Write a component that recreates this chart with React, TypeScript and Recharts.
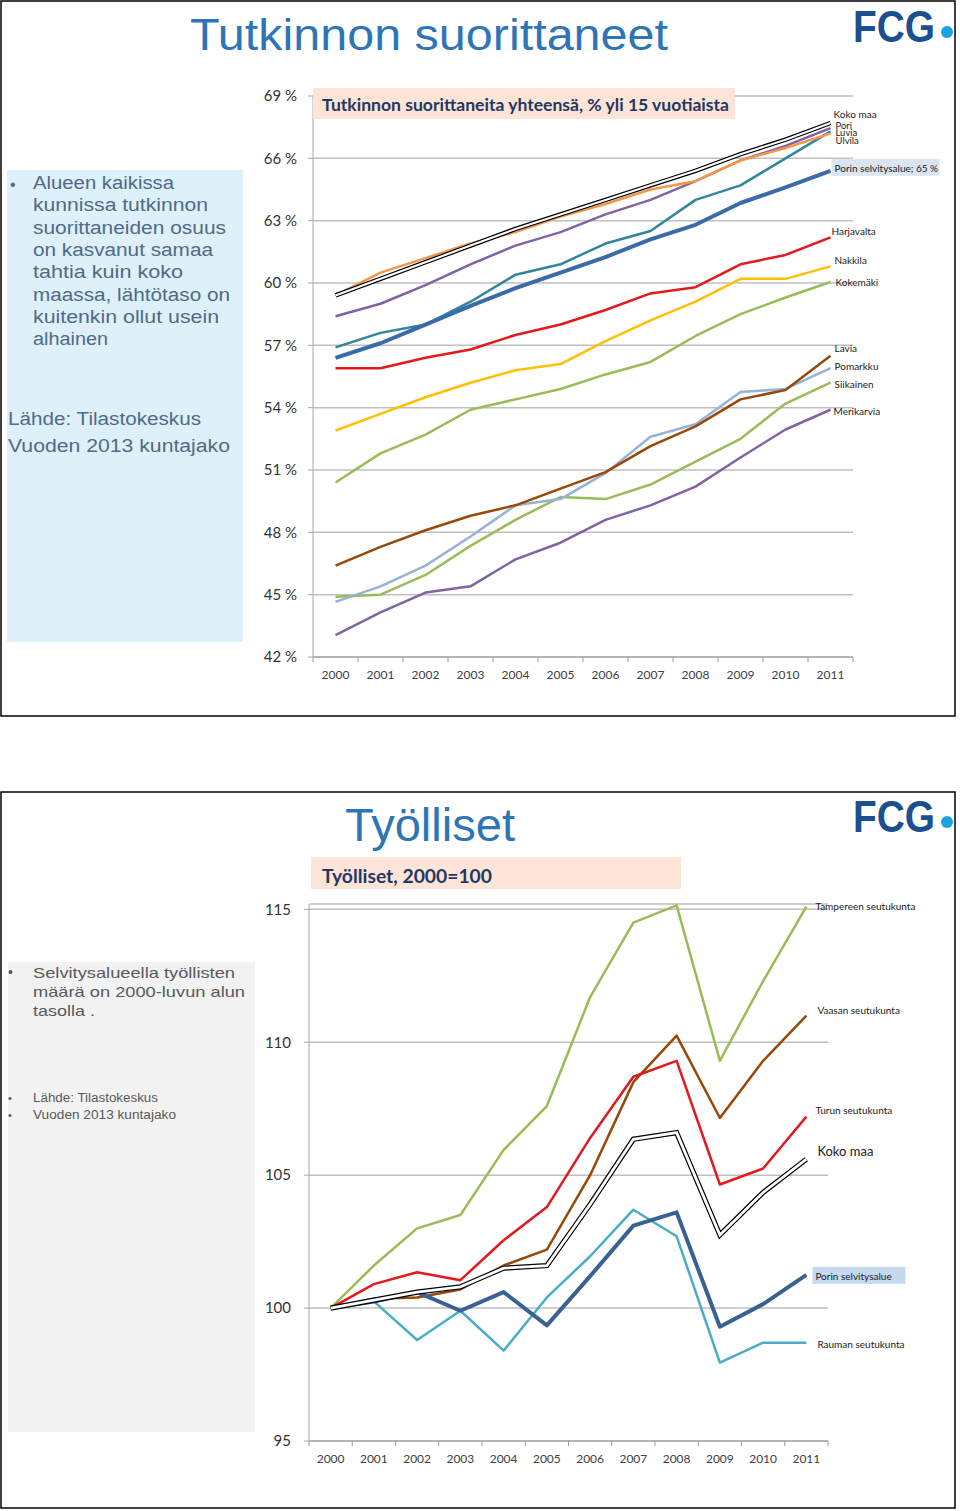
import React from "react";
import { LineChart, Line, XAxis, YAxis, CartesianGrid } from "recharts";

const years = [2000, 2001, 2002, 2003, 2004, 2005, 2006, 2007, 2008, 2009, 2010, 2011];

// Tutkinnon suorittaneita, % yli 15-vuotiaista
const kokoMaaEdu = [59.4, 60.2, 61.0, 61.8, 62.6, 63.3, 64.0, 64.7, 65.4, 66.2, 66.9, 67.7];
const pori = [58.4, 59.0, 59.9, 60.9, 61.8, 62.45, 63.3, 64.0, 64.9, 65.9, 66.6, 67.45];
const luvia = [56.9, 57.6, 58.0, 59.1, 60.4, 60.9, 61.9, 62.5, 64.0, 64.7, 66.0, 67.3];
const ulvila = [59.4, 60.5, 61.2, 61.9, 62.45, 63.2, 63.8, 64.5, 64.9, 65.9, 66.5, 67.2];
const porinSelvEdu = [56.4, 57.1, 58.0, 58.9, 59.75, 60.5, 61.25, 62.1, 62.8, 63.85, 64.6, 65.4];
const harjavalta = [55.9, 55.9, 56.4, 56.8, 57.5, 58.0, 58.7, 59.5, 59.8, 60.9, 61.35, 62.2];
const nakkila = [52.9, 53.7, 54.5, 55.2, 55.8, 56.1, 57.2, 58.2, 59.1, 60.2, 60.2, 60.8];
const kokemaki = [50.4, 51.8, 52.7, 53.9, 54.4, 54.9, 55.6, 56.2, 57.45, 58.5, 59.3, 60.05];
const lavia = [46.4, 47.3, 48.1, 48.8, 49.3, 50.1, 50.9, 52.15, 53.1, 54.4, 54.85, 56.5];
const pomarkku = [44.65, 45.4, 46.4, 47.8, 49.3, 49.6, 50.85, 52.6, 53.2, 54.75, 54.9, 55.9];
const siikainen = [44.9, 45.0, 45.95, 47.35, 48.6, 49.7, 49.6, 50.3, 51.4, 52.5, 54.2, 55.2];
const merikarvia = [43.05, 44.15, 45.1, 45.4, 46.7, 47.5, 48.6, 49.3, 50.2, 51.6, 52.95, 53.9];
const eduTicks = [42, 45, 48, 51, 54, 57, 60, 63, 66, 69];

// Työlliset, 2000=100
const tampere = [100, 101.6, 103.0, 103.5, 105.95, 107.6, 111.7, 114.5, 115.15, 109.3, 112.3, 115.1];
const vaasa = [100, 100.35, 100.4, 100.7, 101.6, 102.2, 105.0, 108.5, 110.25, 107.15, 109.3, 111.0];
const turku = [100, 100.9, 101.35, 101.05, 102.55, 103.8, 106.4, 108.7, 109.3, 104.65, 105.25, 107.2];
const kokoMaaEmp = [100, 100.3, 100.6, 100.8, 101.5, 101.6, 103.9, 106.35, 106.6, 102.75, 104.35, 105.6];
const porinSelvEmp = [100, 100.25, 100.6, 99.9, 100.6, 99.35, 101.2, 103.1, 103.6, 99.3, 100.15, 101.25];
const rauma = [100, 100.25, 98.8, 99.9, 98.4, 100.4, 101.95, 103.7, 102.7, 97.95, 98.7, 98.7];
const empTicks = [95, 100, 105, 110, 115];

const eduData = years.map((year, i) => ({
  year,
  kokoMaa: kokoMaaEdu[i],
  pori: pori[i],
  luvia: luvia[i],
  ulvila: ulvila[i],
  porin: porinSelvEdu[i],
  harjavalta: harjavalta[i],
  nakkila: nakkila[i],
  kokemaki: kokemaki[i],
  lavia: lavia[i],
  pomarkku: pomarkku[i],
  siikainen: siikainen[i],
  merikarvia: merikarvia[i],
}));

const empData = years.map((year, i) => ({
  year,
  tampere: tampere[i],
  vaasa: vaasa[i],
  turku: turku[i],
  kokoMaa: kokoMaaEmp[i],
  porin: porinSelvEmp[i],
  rauma: rauma[i],
}));

// category edges so tick marks sit between years like in Excel
const edgeTicks = [...years.map((y) => y - 0.5), years[years.length - 1] + 0.5];

const CHART_FONT = "Lato, 'Noto Sans', sans-serif";
const NARROW = "'Liberation Sans Narrow', 'Liberation Sans', Arial, sans-serif";
const SANS = "'Liberation Sans', Arial, sans-serif";

type Series = {
  key: string;
  label: string;
  color: string;
  width: number;
  dx: number;
  dy: number;
  double?: boolean;
  fs?: number;
  box?: number;
  boxFill?: string;
};

const eduSeries: Series[] = [
  { key: "merikarvia", label: "Merikarvia", color: "#8064a2", width: 2.5, dx: 3, dy: 1 },
  { key: "siikainen", label: "Siikainen", color: "#9bbb59", width: 2.5, dx: 4, dy: 1 },
  { key: "pomarkku", label: "Pomarkku", color: "#95b3d7", width: 2.5, dx: 4, dy: -2 },
  { key: "lavia", label: "Lavia", color: "#984807", width: 2.5, dx: 4, dy: -8 },
  { key: "kokemaki", label: "Kokemäki", color: "#9bbb59", width: 2.5, dx: 5, dy: 0 },
  { key: "nakkila", label: "Nakkila", color: "#ffc000", width: 2.5, dx: 4, dy: -6 },
  { key: "harjavalta", label: "Harjavalta", color: "#e3191e", width: 2.5, dx: 1, dy: -6 },
  { key: "luvia", label: "Luvia", color: "#31859c", width: 2.5, dx: 5, dy: 1, fs: 9.5 },
  { key: "pori", label: "Pori", color: "#8064a2", width: 2.5, dx: 5, dy: -3, fs: 9.5 },
  { key: "ulvila", label: "Ulvila", color: "#f79646", width: 2.5, dx: 5, dy: 7, fs: 9.5 },
  { key: "porin", label: "Porin selvitysalue; 65 %", color: "#3a6aa8", width: 4, dx: 4, dy: -3, box: 108, boxFill: "#dbe5f1" },
  { key: "kokoMaa", label: "Koko maa", color: "#000", width: 4.5, dx: 3, dy: -9, double: true },
];

const empSeries: Series[] = [
  { key: "tampere", label: "Tampereen seutukunta", color: "#9bbb59", width: 2.5, dx: 9, dy: -1 },
  { key: "vaasa", label: "Vaasan seutukunta", color: "#984807", width: 2.5, dx: 11, dy: -6 },
  { key: "turku", label: "Turun seutukunta", color: "#e3191e", width: 2.5, dx: 9, dy: -7 },
  { key: "rauma", label: "Rauman seutukunta", color: "#4bacc6", width: 2.5, dx: 11, dy: 1 },
  { key: "porin", label: "Porin selvitysalue", color: "#3a6194", width: 4, dx: 9, dy: 1, box: 93, boxFill: "#c6d9f1" },
  { key: "kokoMaa", label: "Koko maa", color: "#000", width: 5.2, dx: 11, dy: -8, double: true, fs: 13 },
];

const lastIndex = years.length - 1;

const makeEndLabel = (s: Series) => (p: any) => {
  const { cx, cy, index } = p;
  if (index !== lastIndex) return <g key={`${s.key}-${index}`} />;
  const tx = cx + s.dx;
  const ty = cy + s.dy;
  const fs = s.fs ?? 10;
  return (
    <g key={`${s.key}-${index}`}>
      {s.box ? <rect x={tx - 3} y={ty - 9} width={s.box} height={17} fill={s.boxFill} /> : null}
      <text x={tx} y={ty} dominantBaseline="central" fontSize={fs} fontFamily={CHART_FONT} fill="#1a1a1a">
        {s.label}
      </text>
    </g>
  );
};

const renderLines = (series: Series[]) =>
  series.flatMap((s) => {
    if (s.double) {
      return [
        <Line key={s.key + "-o"} type="linear" dataKey={s.key} stroke="#000" strokeWidth={s.width} dot={false} activeDot={false} isAnimationActive={false} />,
        <Line key={s.key + "-i"} type="linear" dataKey={s.key} stroke="#fff" strokeWidth={s.width - 2.4} dot={makeEndLabel(s)} activeDot={false} isAnimationActive={false} />,
      ];
    }
    return [
      <Line key={s.key} type="linear" dataKey={s.key} stroke={s.color} strokeWidth={s.width} strokeLinejoin="round" dot={makeEndLabel(s)} activeDot={false} isAnimationActive={false} />,
    ];
  });

const yearTick = (band: number) => (props: any) => {
  const { x, y, payload } = props;
  const yr = Math.round(payload.value + 0.5);
  if (yr > years[lastIndex]) return <g />;
  return (
    <text x={x + band / 2} y={y + 10} textAnchor="middle" dominantBaseline="central" fontSize={12} fontFamily={CHART_FONT} fill="#404040">
      {yr}
    </text>
  );
};

const topPanelLines = [
  "Alueen kaikissa",
  "kunnissa tutkinnon",
  "suorittaneiden osuus",
  "on kasvanut samaa",
  "tahtia kuin koko",
  "maassa, lähtötaso on",
  "kuitenkin ollut usein",
  "alhainen",
];
const topPanelWidths = [141, 175, 193, 180, 150, 197, 186, 75];

const bottomPanelLines = ["Selvitysalueella työllisten", "määrä on 2000-luvun alun", "tasolla ."];
const bottomPanelWidths = [202, 212, 62];

function Logo({ y }: { y: number }) {
  return (
    <g>
      <text x={853} y={y} fontFamily={SANS} fontWeight={700} fontSize={44} fill="#1c4f8f" textLength={82} lengthAdjust="spacingAndGlyphs">
        FCG
      </text>
      <circle cx={947} cy={y - 10} r={6} fill="#1aa3dc" />
    </g>
  );
}

export default function App() {
  return (
    <div style={{ position: "relative", width: 960, height: 1511, background: "#fff", overflow: "hidden" }}>
      <style>{"body{margin:0}"}</style>

      <div style={{ position: "absolute", left: 240, top: 80 }}>
        <LineChart width={720} height={620} data={eduData} margin={{ top: 16, right: 107, bottom: 13, left: 13 }}>
          <CartesianGrid vertical={false} stroke="#bfbfbf" strokeWidth={1.5} />
          <XAxis
            dataKey="year"
            type="number"
            domain={[edgeTicks[0], edgeTicks[edgeTicks.length - 1]]}
            ticks={edgeTicks}
            interval={0}
            tick={yearTick(45)}
            tickSize={5}
            stroke="#9a9a9a"
            height={30}
          />
          <YAxis
            domain={[42, 69]}
            ticks={eduTicks}
            interval={0}
            tickFormatter={(v: number) => `${v} %`}
            width={60}
            tickSize={5}
            tickMargin={11}
            tick={{ fontSize: 15, fill: "#333", fontFamily: CHART_FONT }}
            stroke="#a6a6a6"
          />
          {renderLines(eduSeries)}
        </LineChart>
      </div>

      <div style={{ position: "absolute", left: 230, top: 880 }}>
        <LineChart width={730} height={600} data={empData} margin={{ top: 24, right: 132, bottom: 9, left: 19 }}>
          <CartesianGrid vertical={false} stroke="#bfbfbf" strokeWidth={1.5} />
          <XAxis
            dataKey="year"
            type="number"
            domain={[edgeTicks[0], edgeTicks[edgeTicks.length - 1]]}
            ticks={edgeTicks}
            interval={0}
            tick={yearTick(43.25)}
            tickSize={5}
            stroke="#9a9a9a"
            height={30}
          />
          <YAxis
            domain={[95, 115.2]}
            ticks={empTicks}
            interval={0}
            width={60}
            tickSize={5}
            tickMargin={13}
            tick={{ fontSize: 15, fill: "#333", fontFamily: CHART_FONT }}
            stroke="#a6a6a6"
          />
          {renderLines(empSeries)}
        </LineChart>
      </div>

      <svg width={960} height={1511} style={{ position: "absolute", left: 0, top: 0, pointerEvents: "none" }}>
        {/* slide 1 */}
        <rect x={1} y={1} width={954} height={715} fill="none" stroke="#000" strokeWidth={1.5} />
        <text x={190} y={50} fontFamily={NARROW} fontSize={45} fill="#2e75b6" textLength={478} lengthAdjust="spacingAndGlyphs">
          Tutkinnon suorittaneet
        </text>
        <Logo y={42} />
        <rect x={7} y={170} width={236} height={472} fill="#def0f9" />
        <text x={10} y={184} fontFamily={SANS} fontSize={16} fill="#4f6b86" dominantBaseline="central">•</text>
        {topPanelLines.map((t, i) => (
          <text key={t} x={33} y={183 + i * 22.3} fontFamily={SANS} fontSize={18} fill="#4f6b86" dominantBaseline="central" textLength={topPanelWidths[i]} lengthAdjust="spacingAndGlyphs">
            {t}
          </text>
        ))}
        <text x={8} y={419} fontFamily={SANS} fontSize={18} fill="#4f6b86" dominantBaseline="central" textLength={193} lengthAdjust="spacingAndGlyphs">
          Lähde: Tilastokeskus
        </text>
        <text x={8} y={446} fontFamily={SANS} fontSize={18} fill="#4f6b86" dominantBaseline="central" textLength={222} lengthAdjust="spacingAndGlyphs">
          Vuoden 2013 kuntajako
        </text>
        <rect x={313} y={88} width={422} height={31} fill="#fce4d6" />
        <text x={322} y={104} fontFamily={CHART_FONT} fontWeight={700} fontSize={17} fill="#1f3864" dominantBaseline="central" textLength={407} lengthAdjust="spacingAndGlyphs">
          Tutkinnon suorittaneita yhteensä, % yli 15 vuotiaista
        </text>

        {/* slide 2 */}
        <rect x={1} y={792} width={954} height={716} fill="none" stroke="#000" strokeWidth={1.5} />
        <text x={345} y={841} fontFamily={NARROW} fontSize={46} fill="#2e75b6" textLength={170} lengthAdjust="spacingAndGlyphs">
          Työlliset
        </text>
        <Logo y={832} />
        <rect x={8} y={962} width={247} height={470} fill="#f2f2f2" />
        <text x={8} y={972} fontFamily={SANS} fontSize={14} fill="#595959" dominantBaseline="central">•</text>
        {bottomPanelLines.map((t, i) => (
          <text key={t} x={33} y={972 + i * 19} fontFamily={SANS} fontSize={15} fill="#595959" dominantBaseline="central" textLength={bottomPanelWidths[i]} lengthAdjust="spacingAndGlyphs">
            {t}
          </text>
        ))}
        <text x={8} y={1098} fontFamily={SANS} fontSize={11} fill="#595959" dominantBaseline="central">•</text>
        <text x={33} y={1098} fontFamily={SANS} fontSize={12} fill="#595959" dominantBaseline="central" textLength={125} lengthAdjust="spacingAndGlyphs">
          Lähde: Tilastokeskus
        </text>
        <text x={8} y={1115} fontFamily={SANS} fontSize={11} fill="#595959" dominantBaseline="central">•</text>
        <text x={33} y={1115} fontFamily={SANS} fontSize={12} fill="#595959" dominantBaseline="central" textLength={143} lengthAdjust="spacingAndGlyphs">
          Vuoden 2013 kuntajako
        </text>
        <rect x={311} y={857} width={370} height={32} fill="#fce4d6" />
        <text x={322} y={875} fontFamily={CHART_FONT} fontWeight={700} fontSize={19} fill="#1f3864" dominantBaseline="central" textLength={170} lengthAdjust="spacingAndGlyphs">
          Työlliset, 2000=100
        </text>
      </svg>
    </div>
  );
}
